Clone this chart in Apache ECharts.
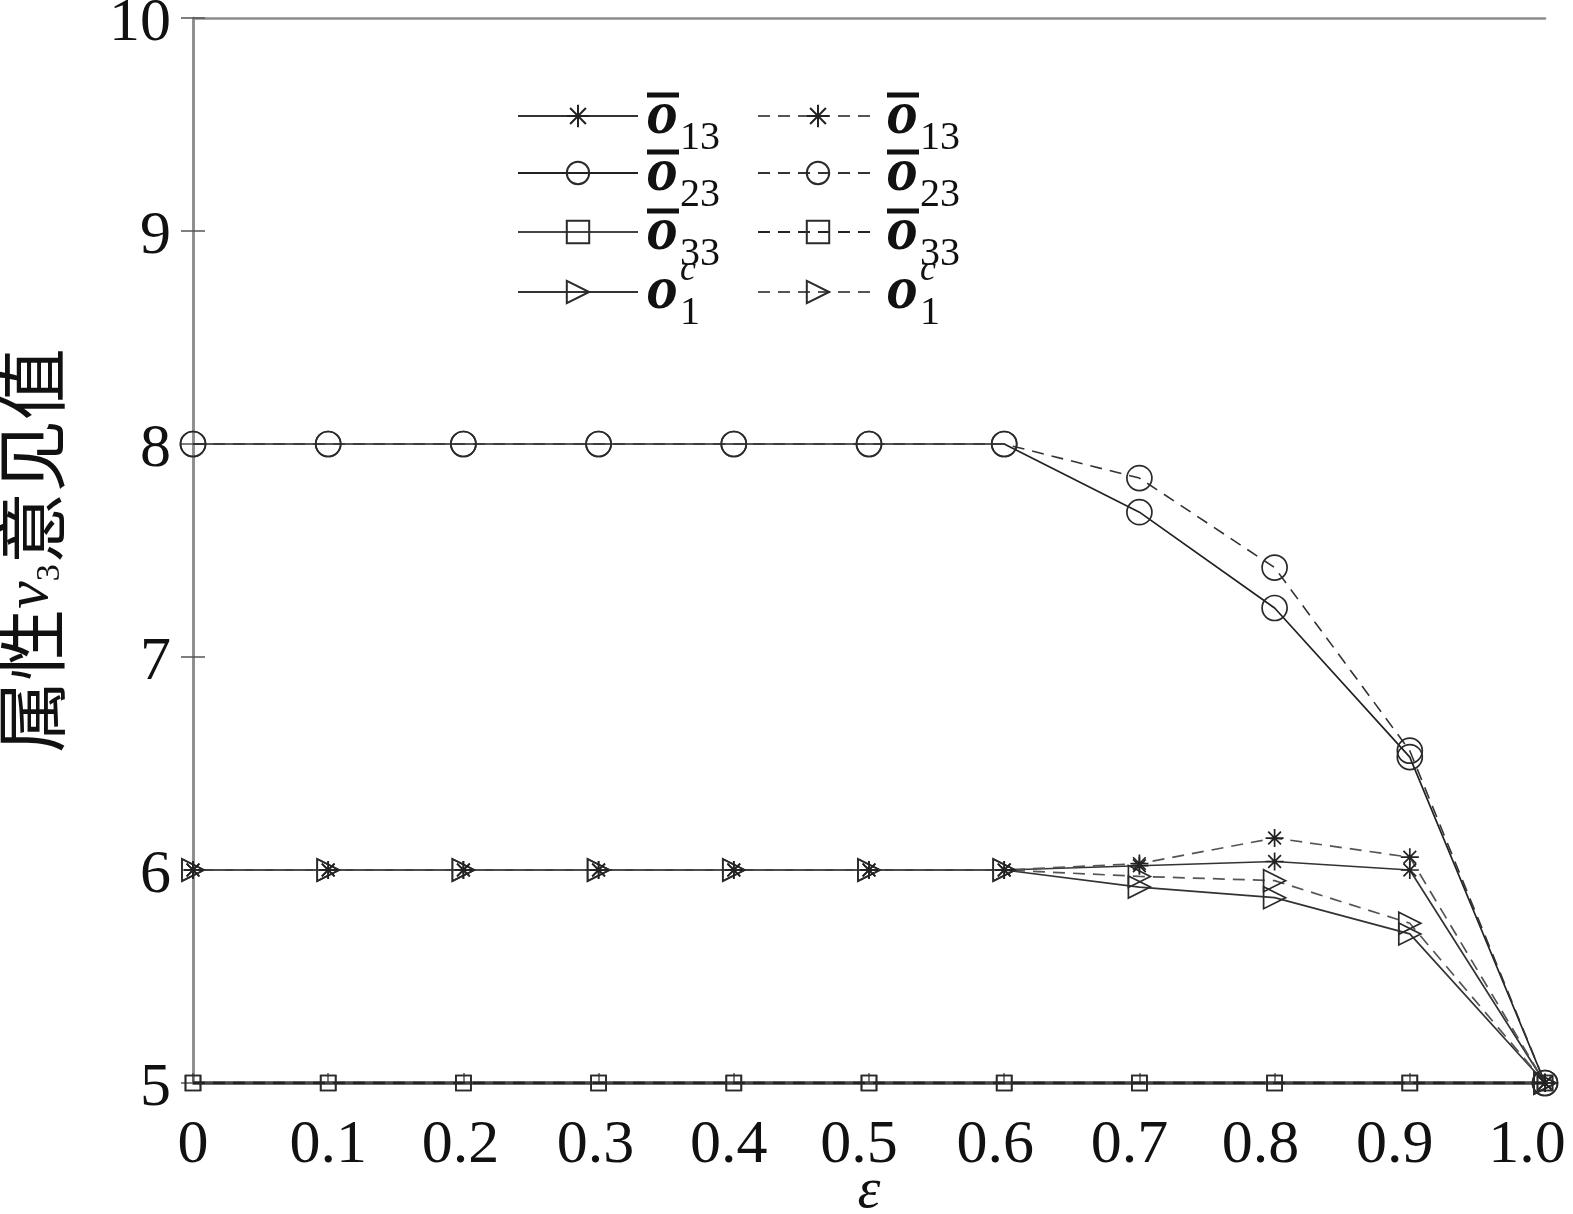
<!DOCTYPE html>
<html>
<head>
<meta charset="utf-8">
<script src="https://cdn.jsdelivr.net/npm/echarts@6/dist/echarts.min.js"></script>
<style>html,body{margin:0;padding:0;background:#fff;}#main{width:1573px;height:1214px;}</style>
</head>
<body>
<div id="main"></div>
<script>
// ---- data ----
const eps = [0, 0.1, 0.2, 0.3, 0.4, 0.5, 0.6, 0.7, 0.8, 0.9, 1.0];
const o13Solid  = [6, 6, 6, 6, 6, 6, 6, 6.02, 6.04, 6.00, 5];
const o13Dashed = [6, 6, 6, 6, 6, 6, 6, 6.03, 6.15, 6.06, 5];
const o23Solid  = [8, 8, 8, 8, 8, 8, 8, 7.68, 7.23, 6.53, 5];
const o23Dashed = [8, 8, 8, 8, 8, 8, 8, 7.84, 7.42, 6.56, 5];
const o33Solid  = [5, 5, 5, 5, 5, 5, 5, 5, 5, 5, 5];
const o33Dashed = [5, 5, 5, 5, 5, 5, 5, 5, 5, 5, 5];
const o1cSolid  = [6, 6, 6, 6, 6, 6, 6, 5.92, 5.87, 5.70, 5];
const o1cDashed = [6, 6, 6, 6, 6, 6, 6, 5.97, 5.95, 5.75, 5];
const yTicks = [5, 6, 7, 8, 9, 10];
const xTickLabels = ['0', '0.1', '0.2', '0.3', '0.4', '0.5', '0.6', '0.7', '0.8', '0.9', '1.0'];

const STAR = 'path://M0,-10L0,10M-10,0L10,0M-7.07,-7.07L7.07,7.07M-7.07,7.07L7.07,-7.07';
const TRI = 'path://M0,0L18,10L0,20Z';
const DASH = [12, 8];

function pairs(ys) { return eps.map((x, i) => [x, ys[i]]); }

function mk(name, ys, symbol, size, lineColor, lineWidth, dashed) {
  return {
    name: name, type: 'line', data: pairs(ys), symbol: symbol, symbolSize: size,
    showSymbol: true,
    lineStyle: { color: lineColor, width: lineWidth, type: dashed ? DASH : 'solid' },
    itemStyle: { color: 'rgba(255,255,255,0)', borderColor: '#2a2a2a', borderWidth: 1.7 },
    emphasis: { disabled: true }, animation: false
  };
}

const series = [
  mk('o33a', o33Solid, 'rect', 15, '#444', 3.5, false),
  mk('o33b', o33Dashed, 'rect', 15, '#222', 2.5, true),
  mk('o23a', o23Solid, 'circle', 25, '#222', 1.7, false),
  mk('o23b', o23Dashed, 'circle', 25, '#333', 1.6, true),
  mk('o1ca', o1cSolid, TRI, 22, '#333', 1.7, false),
  mk('o1cb', o1cDashed, TRI, 22, '#555', 1.7, true),
  mk('o13a', o13Solid, STAR, 18, '#333', 1.7, false),
  mk('o13b', o13Dashed, STAR, 18, '#555', 1.7, true)
];
series.forEach(s => {
  if (s.symbol === STAR) { s.itemStyle.color = '#222'; s.itemStyle.borderColor = '#222'; }
});

const labels = {
  o13a: '{bar|}\n{o|o}\n{pad|}{sub|13}', o13b: '{bar|}\n{o|o}\n{pad|}{sub|13}',
  o23a: '{bar|}\n{o|o}\n{pad|}{sub|23}', o23b: '{bar|}\n{o|o}\n{pad|}{sub|23}',
  o33a: '{bar|}\n{o|o}\n{pad|}{sub|33}', o33b: '{bar|}\n{o|o}\n{pad|}{sub|33}',
  o1ca: '{pad|}{sup|c}\n{o|o}\n{pad|}{sub|1}', o1cb: '{pad|}{sup|c}\n{o|o}\n{pad|}{sub|1}'
};
const rich = {
  bar: { width: 32, height: 5, lineHeight: 14, backgroundColor: '#111' },
  o: { fontFamily: 'Liberation Serif', fontStyle: 'italic', fontWeight: 'bold', fontSize: 62, lineHeight: 30, color: '#111' },
  pad: { width: 33, lineHeight: 12 },
  sub: { fontFamily: 'Liberation Serif', fontSize: 40, lineHeight: 12, color: '#111' },
  sup: { fontFamily: 'Liberation Serif', fontStyle: 'italic', fontSize: 36, lineHeight: 12, color: '#111' }
};
// one legend per entry: [series name, left, top]
const legendSlots = [
  ['o13a', 517, 86], ['o23a', 517, 143], ['o33a', 517, 202], ['o1ca', 517, 253],
  ['o13b', 757, 86], ['o23b', 757, 143], ['o33b', 757, 202], ['o1cb', 757, 253]
];
const legends = legendSlots.map(([n, l, t]) => ({
  data: [n], orient: 'vertical', left: l, top: t,
  itemWidth: 120, itemHeight: 28, padding: 0,
  selectedMode: false,
  formatter: k => labels[k],
  textStyle: { rich: rich, padding: [0, 0, 0, 4] }
}));

// label shift (px, leftwards) to follow the reference placement
const xShift = [0, 0, 3, 3, 5, 10, 9, 10, 14, 15, 18];
const xRich = {};
xShift.forEach((s, i) => {
  xRich['t' + i] = { fontFamily: 'Liberation Serif', fontSize: 62, color: '#111', padding: [0, 2 * s, 0, 0] };
});

const chart = echarts.init(document.getElementById('main'), null, { renderer: 'canvas' });
const axisColor = '#8c8c8c';
chart.setOption({
  backgroundColor: '#fff',
  animation: false,
  grid: { left: 193, right: 28, top: 18, bottom: 131, outerBoundsMode: 'none', containLabel: false },
  legend: legends,
  xAxis: [{
    type: 'value', min: 0, max: 1, interval: 0.1, position: 'bottom',
    name: 'ε', nameLocation: 'middle', nameGap: 80, nameMoveOverlap: false,
    nameTextStyle: { fontFamily: 'Liberation Serif', fontStyle: 'italic', fontSize: 58, color: '#111' },
    axisLine: { show: true, lineStyle: { color: axisColor, width: 2.5 } },
    axisTick: { show: true, inside: true, length: 10, lineStyle: { color: '#555', width: 1.5 } },
    splitLine: { show: false },
    axisLabel: {
      margin: 32, fontFamily: 'Liberation Serif', fontSize: 62, color: '#111', rich: xRich,
      formatter: v => { const i = Math.round(v * 10); return '{t' + i + '|' + xTickLabels[i] + '}'; }
    }
  }, {
    type: 'value', min: 0, max: 1, interval: 0.1, position: 'top',
    axisLine: { show: true, lineStyle: { color: axisColor, width: 2.5 } },
    axisTick: { show: false }, axisLabel: { show: false }, splitLine: { show: false }
  }],
  yAxis: [{
    type: 'value', min: yTicks[0], max: yTicks[yTicks.length - 1], interval: 1, position: 'left',
    name: '{a|属性}{v|v}{s|3}{a|意见值}', nameLocation: 'middle', nameGap: 126, nameRotate: 90,
    nameTextStyle: {
      rich: {
        a: { fontFamily: 'Noto Sans CJK SC', fontSize: 72, color: '#111', lineHeight: 72 },
        v: { fontFamily: 'Liberation Serif', fontStyle: 'italic', fontSize: 62, color: '#111', lineHeight: 72 },
        s: { fontFamily: 'Liberation Serif', fontSize: 34, color: '#111', lineHeight: 72, verticalAlign: 'bottom' }
      }
    },
    axisLine: { show: true, lineStyle: { color: axisColor, width: 2.5 } },
    axisTick: { show: true, inside: true, length: 12, lineStyle: { color: '#555', width: 1.5 } },
    splitLine: { show: false },
    axisLabel: {
      margin: 22, fontFamily: 'Liberation Serif', fontSize: 62, color: '#111',
      formatter: v => '{y|' + v + '}',
      rich: { y: { fontFamily: 'Liberation Serif', fontSize: 62, color: '#111', padding: [12, 0, 0, 0] } }
    }
  }, {
    type: 'value', min: yTicks[0], max: yTicks[yTicks.length - 1], interval: 1, position: 'right',
    axisLine: { show: true, lineStyle: { color: axisColor, width: 2.5 } },
    axisTick: { show: true, inside: true, length: 12, lineStyle: { color: '#555', width: 1.5 } },
    axisLabel: { show: false }, splitLine: { show: false }
  }],
  series: series
});
</script>
</body>
</html>
